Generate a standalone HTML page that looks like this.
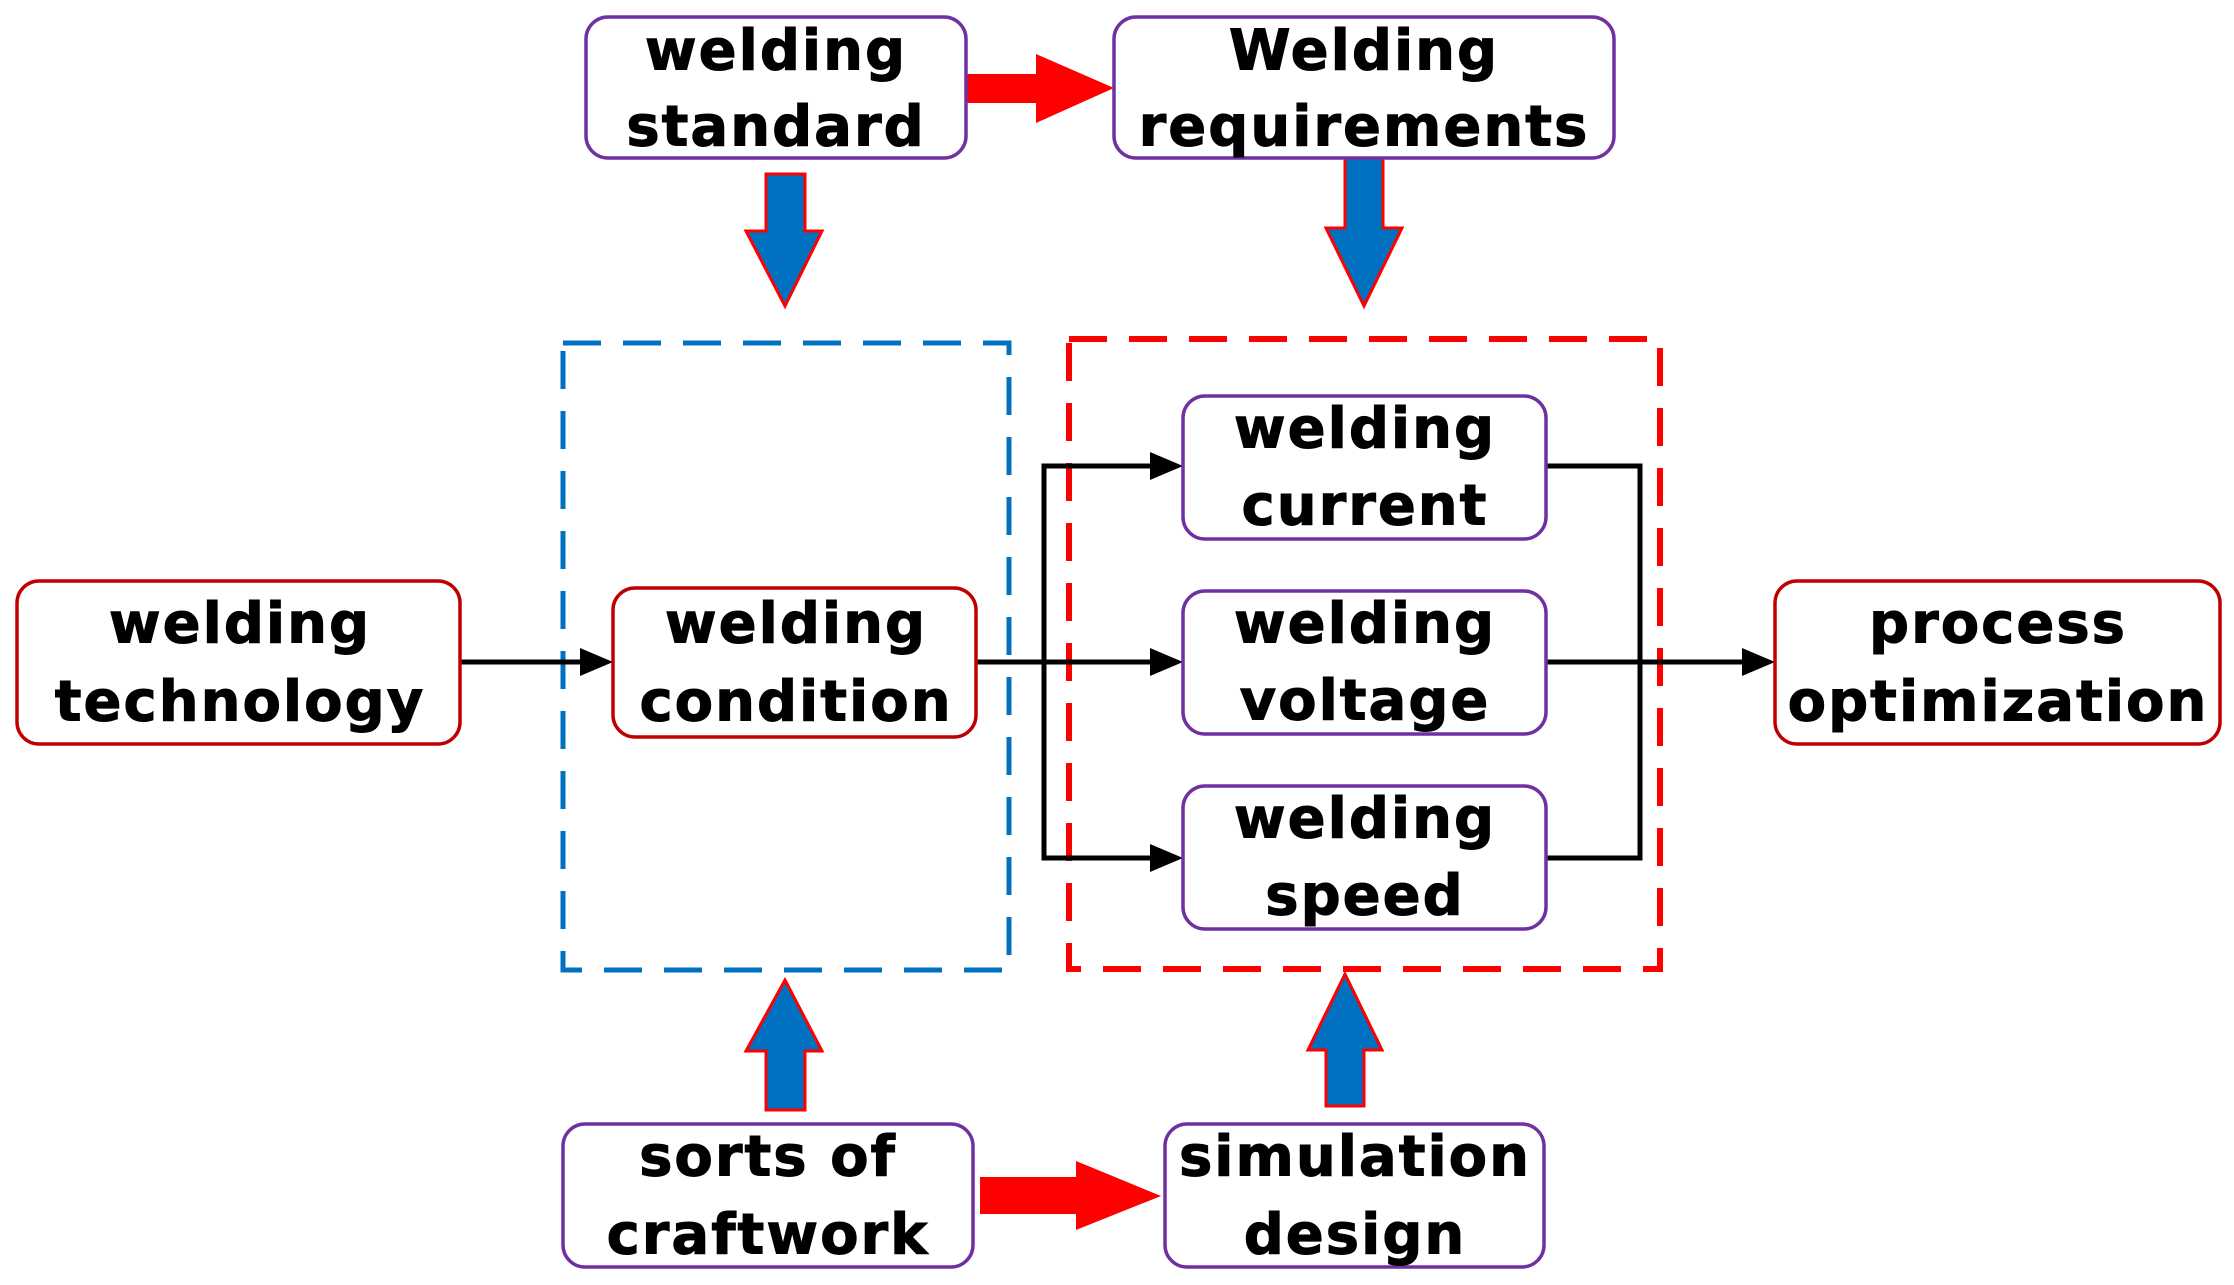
<!DOCTYPE html>
<html><head><meta charset="utf-8"><style>
html,body{margin:0;padding:0;background:#fff;}
svg{display:block;}
text{font-family:"DejaVu Sans","Liberation Sans",sans-serif;font-weight:bold;font-size:56px;letter-spacing:2px;fill:#000;text-anchor:middle;dominant-baseline:central;stroke:#000;stroke-width:1px;}
</style></head><body>
<svg width="2234" height="1285" viewBox="0 0 2234 1285" xmlns="http://www.w3.org/2000/svg">
<!-- dashed groups -->
<rect x="563" y="343" width="446" height="627" fill="none" stroke="#0070c0" stroke-width="5" stroke-dasharray="38,22"/>
<rect x="1069" y="339" width="591" height="630" fill="none" stroke="#ff0000" stroke-width="6" stroke-dasharray="38,22"/>

<!-- black connectors -->
<g stroke="#000" stroke-width="5" fill="none">
<line x1="460" y1="662" x2="585" y2="662"/>
<polyline points="976,662 1044,662"/>
<polyline points="1160,466 1044,466 1044,858 1160,858"/>
<line x1="1044" y1="662" x2="1160" y2="662"/>
<polyline points="1546,466 1640,466 1640,858 1546,858"/>
<line x1="1546" y1="662" x2="1748" y2="662"/>
</g>
<g fill="#000">
<polygon points="613,662 580,648 580,676"/>
<polygon points="1183,466 1150,452 1150,480"/>
<polygon points="1183,662 1150,648 1150,676"/>
<polygon points="1183,858 1150,844 1150,872"/>
<polygon points="1775,662 1742,648 1742,676"/>
</g>

<!-- red arrows -->
<polygon points="966,74 1036,74 1036,54 1114,88 1036,123 1036,103 966,103" fill="#ff0000"/>
<polygon points="980,1177 1076,1177 1076,1161 1161,1196 1076,1230 1076,1214 980,1214" fill="#ff0000"/>

<!-- blue arrows -->
<g fill="#0070c0" stroke="#ff0000" stroke-width="3">
<polygon points="766,174 805,174 805,231 822,231 785,306 746,231 766,231"/>
<polygon points="1345,158 1383,158 1383,228 1402,228 1364,306 1326,228 1345,228"/>
<polygon points="766,1110 805,1110 805,1051 822,1051 785,980 746,1051 766,1051"/>
<polygon points="1326,1106 1364,1106 1364,1050 1382,1050 1345,974 1308,1050 1326,1050"/>
</g>

<!-- boxes -->
<g fill="#fff" stroke-width="3.5">
<rect x="586" y="17" width="380" height="141" rx="22" stroke="#7030a0"/>
<rect x="1114" y="17" width="500" height="141" rx="22" stroke="#7030a0"/>
<rect x="17" y="581" width="443" height="163" rx="22" stroke="#c00000"/>
<rect x="613" y="588" width="363" height="149" rx="22" stroke="#c00000"/>
<rect x="1183" y="396" width="363" height="143" rx="22" stroke="#7030a0"/>
<rect x="1183" y="591" width="363" height="143" rx="22" stroke="#7030a0"/>
<rect x="1183" y="786" width="363" height="143" rx="22" stroke="#7030a0"/>
<rect x="1775" y="581" width="445" height="163" rx="22" stroke="#c00000"/>
<rect x="563" y="1124" width="410" height="143" rx="22" stroke="#7030a0"/>
<rect x="1165" y="1124" width="379" height="143" rx="22" stroke="#7030a0"/>
</g>

<!-- labels -->
<text x="776" y="51">welding</text><text x="776" y="127">standard</text>
<text x="1364" y="51">Welding</text><text x="1364" y="127">requirements</text>
<text x="240" y="624">welding</text><text x="240" y="702">technology</text>
<text x="796" y="624">welding</text><text x="796" y="702">condition</text>
<text x="1365" y="429">welding</text><text x="1365" y="506">current</text>
<text x="1365" y="624">welding</text><text x="1365" y="701">voltage</text>
<text x="1365" y="819">welding</text><text x="1365" y="896">speed</text>
<text x="1998" y="624">process</text><text x="1998" y="702">optimization</text>
<text x="768" y="1157">sorts of</text><text x="768" y="1235">craftwork</text>
<text x="1355" y="1157">simulation</text><text x="1355" y="1235">design</text>
</svg>
</body></html>
